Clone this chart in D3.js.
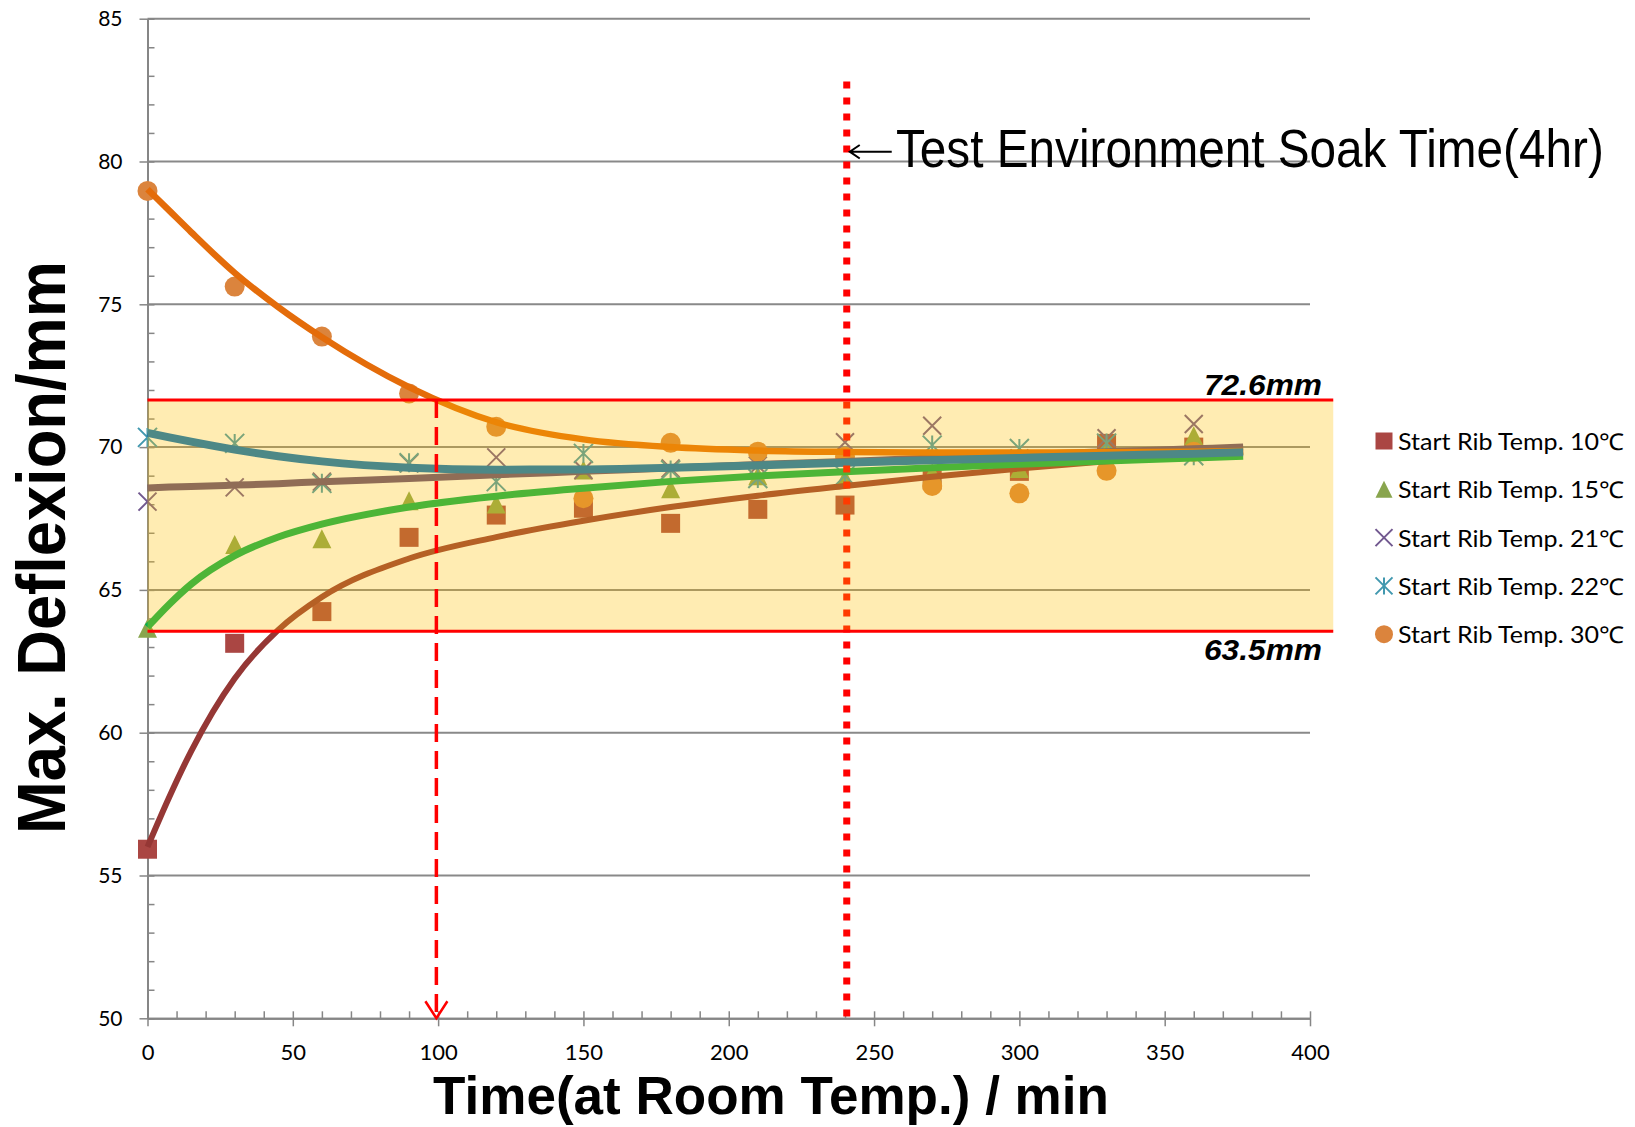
<!DOCTYPE html>
<html>
<head>
<meta charset="utf-8">
<script src="https://cdn.jsdelivr.net/npm/d3@7"></script>
<style>
  html, body { margin: 0; padding: 0; background: #fff; }
  svg { display: block; }
</style>
</head>
<body>
<svg width="1635" height="1127"></svg>
<script>
// measured points, one per series
const times = [0, 30, 60, 90, 120, 150, 180, 210, 240, 270, 300, 330, 360];
const rib10 = [55.92, 63.13, 64.24, 66.84, 67.62, 67.86, 67.33, 67.82, 67.97, 68.85, 69.15, 70.13, 70.0];
const rib15 = [63.66, 66.59, 66.79, 68.12, 68.01, 69.2, 68.54, 69.0, 68.91, 69.1, 69.25, 69.9, 70.4];
const rib21 = [68.09, 68.59, 68.79, 69.43, 69.64, 69.2, 69.25, 69.35, 70.17, 70.75, 69.6, 70.31, 70.81];
const rib22 = [70.34, 70.13, 68.73, 69.45, 68.79, 69.78, 69.2, 68.9, 69.0, 70.07, 69.95, 70.14, 69.7];
const rib30 = [78.97, 75.62, 73.87, 71.88, 70.71, 68.21, 70.15, 69.84, 69.66, 68.64, 68.38, 69.17, 69.84];

// trendlines
const trendTimes = [0, 7.5, 15, 30, 45, 60, 90, 120, 150, 180, 210, 240, 270, 300, 330, 360, 377];
const trend10 = [56.0, 57.75, 59.35, 61.9, 63.6, 64.75, 66.1, 66.85, 67.42, 67.9, 68.3, 68.64, 68.96, 69.25, 69.5, 69.72, 69.83];
const trend15 = [63.7, 64.5, 65.2, 66.2, 66.85, 67.3, 67.9, 68.28, 68.56, 68.8, 68.99, 69.14, 69.28, 69.4, 69.51, 69.62, 69.68];
const trend21 = [68.57, 68.6, 68.62, 68.67, 68.72, 68.79, 68.9, 69.03, 69.15, 69.27, 69.39, 69.5, 69.62, 69.73, 69.84, 69.94, 70.0];
const trend22 = [70.5, 70.34, 70.19, 69.91, 69.68, 69.5, 69.28, 69.21, 69.22, 69.28, 69.36, 69.45, 69.54, 69.62, 69.7, 69.77, 69.82];
const trend30 = [79.03, 78.28, 77.53, 76.1, 74.9, 73.85, 72.1, 70.87, 70.27, 70.0, 69.88, 69.83, 69.81, 69.81, 69.82, 69.84, 69.86];

const seriesNames = ["Start Rib Temp. 10℃", "Start Rib Temp. 15℃", "Start Rib Temp. 21℃", "Start Rib Temp. 22℃", "Start Rib Temp. 30℃"];
const yTicks = [50, 55, 60, 65, 70, 75, 80, 85];
const xTicks = [0, 50, 100, 150, 200, 250, 300, 350, 400];
const bandLimits = [63.55, 71.65];
const bandLabels = ["63.5mm", "72.6mm"];
const bandEnd = 408;
const crossTime = 99.4;
const soakTime = 240.6;
const soakTop = 82.8;
const soakLabel = "Test Environment Soak Time(4hr)";

const series = [
  {name: seriesNames[0], values: rib10, trend: trend10, marker: "square", size: 19, color: "#AA4643", line: "#953735", lw: 6},
  {name: seriesNames[1], values: rib15, trend: trend15, marker: "triangle", size: 19, color: "#89A54E", line: "#00B050", lw: 7},
  {name: seriesNames[2], values: rib21, trend: trend21, marker: "x", size: 18, color: "#71588F", line: "#604A7B", lw: 7},
  {name: seriesNames[3], values: rib22, trend: trend22, marker: "star", size: 19, color: "#4198AF", line: "#0070C0", lw: 8},
  {name: seriesNames[4], values: rib30, trend: trend30, marker: "circle", size: 20, color: "#DB843D", line: "#E46C0A", lw: 6.5}
];

const svg = d3.select("svg");
const x = d3.scaleLinear().domain([0, 400]).range([147.5, 1310]);
const y = d3.scaleLinear().domain([50, 85]).range([1018.3, 18.7]);

function markerPath(type, s) {
  const h = s / 2;
  const cross = `M${-h},${-h}L${h},${h}M${h},${-h}L${-h},${h}`;
  if (type === "square") return `M${-h},${-h}H${h}V${h}H${-h}Z`;
  if (type === "triangle") return `M0,${-h}L${h},${h}L${-h},${h}Z`;
  if (type === "x") return cross;
  if (type === "star") return cross + `M0,${-h}V${h}`;
  return d3.symbol(d3.symbolCircle, Math.PI * h * h)();
}
const stroked = t => t === "x" || t === "star";

// squeeze a text to a given width by scaling it horizontally
function fitText(text, px, py, w, rotate) {
  const len = text.node().getComputedTextLength();
  text.attr("transform", `translate(${px},${py})${rotate ? " rotate(-90)" : ""} scale(${w / len},1)`);
}

// gridlines
svg.append("g")
  .selectAll("line")
  .data(yTicks.filter(v => v > 50))
  .join("line")
  .attr("x1", x(0)).attr("x2", x(400))
  .attr("y1", d => y(d)).attr("y2", d => y(d))
  .attr("stroke", "#898989")
  .attr("stroke-width", 2);

// axes
const axisStyle = g => {
  g.select(".domain").attr("stroke", "#868686").attr("stroke-width", 2);
  g.selectAll(".tick line").attr("stroke", "#868686").attr("stroke-width", 1.5);
  g.selectAll("text").attr("fill", "#000").style("font-family", "Lato, 'Open Sans', sans-serif");
};

svg.append("g")
  .attr("transform", `translate(${x(0)},0)`)
  .call(d3.axisRight(y).tickValues(d3.range(50, 86, 1)).tickSize(7).tickSizeOuter(0).tickFormat(""))
  .call(axisStyle);

svg.append("g")
  .attr("transform", `translate(0,${y(50)})`)
  .call(d3.axisTop(x).tickValues(d3.range(0, 401, 10)).tickSize(7).tickSizeOuter(0).tickFormat(""))
  .call(axisStyle);

svg.append("g")
  .attr("transform", `translate(${x(0)},0)`)
  .call(d3.axisLeft(y).tickValues(yTicks).tickSize(8).tickPadding(17).tickSizeOuter(0))
  .call(axisStyle)
  .selectAll("text").style("font-size", "21px");

svg.append("g")
  .attr("transform", `translate(0,${y(50)})`)
  .call(d3.axisBottom(x).tickValues(xTicks).tickSize(8).tickPadding(18).tickSizeOuter(0))
  .call(axisStyle)
  .selectAll("text").style("font-size", "22px");

// markers
series.forEach(s => {
  svg.append("g")
    .selectAll("path")
    .data(s.values)
    .join("path")
    .attr("transform", (d, i) => `translate(${x(times[i])},${y(d)})`)
    .attr("d", markerPath(s.marker, s.size))
    .attr("fill", stroked(s.marker) ? "none" : s.color)
    .attr("stroke", stroked(s.marker) ? s.color : "none")
    .attr("stroke-width", 2);
});

// trendlines, the 22 one sits on top
const trendLine = d3.line()
  .x((d, i) => x(trendTimes[i]))
  .y(d => y(d))
  .curve(d3.curveMonotoneX);

[0, 1, 2, 4, 3].forEach(k => {
  const s = series[k];
  svg.append("path")
    .attr("d", trendLine(s.trend))
    .attr("fill", "none")
    .attr("stroke", s.line)
    .attr("stroke-width", s.lw);
});

// soak time dotted line
svg.append("line")
  .attr("x1", x(soakTime)).attr("x2", x(soakTime))
  .attr("y1", y(soakTop)).attr("y2", y(50))
  .attr("stroke", "#ff0000")
  .attr("stroke-width", 7)
  .attr("stroke-dasharray", "7,9");

// tolerance band over everything
svg.append("rect")
  .attr("x", x(0))
  .attr("y", y(bandLimits[1]))
  .attr("width", x(bandEnd) - x(0))
  .attr("height", y(bandLimits[0]) - y(bandLimits[1]))
  .attr("fill", "rgb(255,192,0)")
  .attr("fill-opacity", 0.3);

svg.append("g")
  .selectAll("line")
  .data(bandLimits)
  .join("line")
  .attr("x1", x(0)).attr("x2", x(bandEnd))
  .attr("y1", d => y(d)).attr("y2", d => y(d))
  .attr("stroke", "#ff0000")
  .attr("stroke-width", 3);

svg.append("g")
  .selectAll("text")
  .data(bandLimits)
  .join("text")
  .attr("x", 1322)
  .attr("y", (d, i) => i === 1 ? y(d) - 5 : y(d) + 29)
  .attr("text-anchor", "end")
  .attr("textLength", 118)
  .attr("lengthAdjust", "spacingAndGlyphs")
  .style("font-family", "'Liberation Sans', Arial, sans-serif")
  .style("font-size", "29px")
  .style("font-weight", "bold")
  .style("font-style", "italic")
  .text((d, i) => bandLabels[i]);

// dashed drop line with arrow
svg.append("line")
  .attr("x1", x(crossTime)).attr("x2", x(crossTime))
  .attr("y1", y(bandLimits[1])).attr("y2", y(50) - 2)
  .attr("stroke", "#ff0000")
  .attr("stroke-width", 3.5)
  .attr("stroke-dasharray", "18,9");

svg.append("path")
  .attr("d", `M${x(crossTime) - 11},${y(50) - 17}L${x(crossTime)},${y(50)}L${x(crossTime) + 11},${y(50) - 17}`)
  .attr("fill", "none")
  .attr("stroke", "#ff0000")
  .attr("stroke-width", 2.5);

// soak annotation
const ax = x(soakTime) + 3;
svg.append("path")
  .attr("d", `M${ax},151.7H${ax + 42}M${ax + 10},145L${ax},151.7L${ax + 10},158.5`)
  .attr("fill", "none")
  .attr("stroke", "#000")
  .attr("stroke-width", 2);

const soakText = svg.append("text")
  .style("font-family", "'Liberation Sans', Arial, sans-serif")
  .style("font-size", "54px")
  .text(soakLabel);
fitText(soakText, 896, 167, 708);

// axis titles
const yTitle = svg.append("text")
  .attr("text-anchor", "middle")
  .style("font-family", "'Liberation Sans', Arial, sans-serif")
  .style("font-size", "68px")
  .style("font-weight", "bold")
  .text("Max. Deflexion/mm");
fitText(yTitle, 65, 547.5, 573, true);

const xTitle = svg.append("text")
  .attr("text-anchor", "middle")
  .style("font-family", "'Liberation Sans', Arial, sans-serif")
  .style("font-size", "54px")
  .style("font-weight", "bold")
  .text("Time(at Room Temp.) / min");
fitText(xTitle, 771, 1114, 676);

// legend
const legend = svg.append("g")
  .selectAll("g")
  .data(series)
  .join("g")
  .attr("transform", (d, i) => `translate(1384,${441 + i * 48.3})`);

legend.append("path")
  .attr("d", d => markerPath(d.marker, d.marker === "circle" ? 18 : 17))
  .attr("fill", d => stroked(d.marker) ? "none" : d.color)
  .attr("stroke", d => stroked(d.marker) ? d.color : "none")
  .attr("stroke-width", 2);

legend.append("text")
  .attr("x", 14)
  .attr("y", 9)
  .attr("textLength", 226)
  .attr("lengthAdjust", "spacingAndGlyphs")
  .style("font-family", "Lato, 'Open Sans', sans-serif")
  .style("font-size", "23px")
  .text(d => d.name);
</script>
</body>
</html>
